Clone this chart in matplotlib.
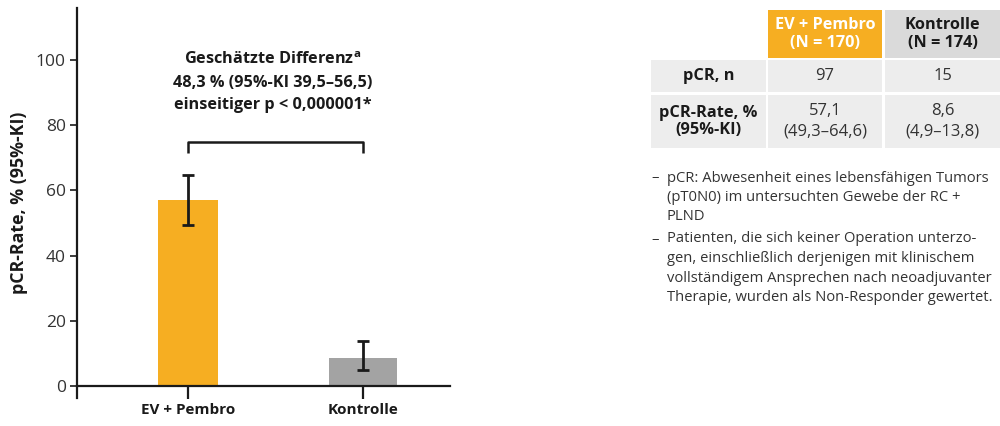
import matplotlib
matplotlib.use('Agg')
import numpy as np
import matplotlib.pyplot as plt

# DATA
groups = ['EV + Pembro', 'Kontrolle']
n_total = [170, 174]
n_pcr = [97, 15]
rates = [57.1, 8.6]
ci_low = [49.3, 4.9]
ci_high = [64.6, 13.8]
diff_text = ['Geschätzte Differenz$^{\\mathregular{a}}$',
             '48,3 % (95%-KI 39,5–56,5)',
             'einseitiger p < 0,000001*']
notes = [['pCR: Abwesenheit eines lebensfähigen Tumors',
          '(pT0N0) im untersuchten Gewebe der RC +',
          'PLND'],
         ['Patienten, die sich keiner Operation unterzo-',
          'gen, einschließlich derjenigen mit klinischem',
          'vollständigem Ansprechen nach neoadjuvanter',
          'Therapie, wurden als Non-Responder gewertet.']]

plt.rcParams['font.family'] = ['Open Sans', 'DejaVu Sans']
ORANGE = '#F6AE22'
GREY_BAR = '#A3A3A3'
TXT = '#333333'

W, H = 1000, 426
fig = plt.figure(figsize=(W / 100, H / 100), dpi=100)

# MAIN BAR CHART
ax = fig.add_axes([77 / W, 1 - 398 / H, 373 / W, 390 / H])
x = np.arange(len(groups))
bar_widths = [0.34, 0.39]
err = [np.array(rates) - np.array(ci_low), np.array(ci_high) - np.array(rates)]
ax.bar(x, rates, width=bar_widths, color=[ORANGE, GREY_BAR], zorder=1)
ax.errorbar(x, rates, yerr=err, fmt='none', ecolor='#1a1a1a', elinewidth=2,
            capsize=4, capthick=2, zorder=2)
ax.set_xlim(-0.634, 1.497)
ax.set_ylim(-3.7, 116)
ax.spines['top'].set_visible(False)
ax.spines['right'].set_visible(False)
ax.spines['bottom'].set_position(('data', 0))
for s in ['left', 'bottom']:
    ax.spines[s].set_linewidth(1.6)
    ax.spines[s].set_color('#1a1a1a')
ax.set_yticks(np.arange(0, 101, 20))
ax.set_xticks(x)
ax.set_xticklabels(groups, fontsize=11, fontweight='bold', color='#1a1a1a')
ax.tick_params(axis='x', length=9, width=1.6, color='#1a1a1a', pad=3)
ax.tick_params(axis='y', length=5, width=1.2, color='#1a1a1a', labelsize=12.5,
               labelcolor=TXT, pad=3)
ax.set_ylabel('pCR-Rate, % (95%-KI)', fontsize=12.8, fontweight='bold',
              color='#1a1a1a', labelpad=6)

# bracket + difference text
ax.plot([x[0], x[0], x[1], x[1]], [71.5, 75, 75, 71.5], color='#1a1a1a',
        lw=1.8, solid_capstyle='butt')
xm = 0.482
for i, t in enumerate(diff_text):
    ax.text(xm, 100 - i * 6.9, t, ha='center', va='center', fontsize=11.7,
            fontweight='bold', color='#1a1a1a')

# TABLE (pixel coordinates)
tx = fig.add_axes([0, 0, 1, 1])
tx.set_xlim(0, W)
tx.set_ylim(H, 0)
tx.axis('off')
col_x = [651, 768, 885]
col_w = [115, 114, 115]
row_y = [10, 60, 95]
row_h = [48, 32, 53]
head_bg = [ORANGE, '#DADADA']
head_fg = ['white', '#1a1a1a']
for j in range(2):
    tx.add_patch(plt.Rectangle((col_x[j + 1], row_y[0]), col_w[j + 1], row_h[0],
                               color=head_bg[j], lw=0))
    tx.text(col_x[j + 1] + col_w[j + 1] / 2, row_y[0] + row_h[0] / 2,
            f'{groups[j]}\n(N = {n_total[j]})', ha='center', va='center',
            fontsize=11.7, fontweight='bold', color=head_fg[j], linespacing=1.1)
row_labels = ['pCR, n', 'pCR-Rate, %\n(95%-KI)']
for r in range(2):
    for c in range(3):
        tx.add_patch(plt.Rectangle((col_x[c], row_y[r + 1]), col_w[c], row_h[r + 1],
                                   color='#EDEDED', lw=0))
    tx.text(col_x[0] + col_w[0] / 2, row_y[r + 1] + row_h[r + 1] / 2, row_labels[r],
            ha='center', va='center', fontsize=11.8, fontweight='bold',
            color='#1a1a1a', linespacing=1.1)
for j in range(2):
    cx = col_x[j + 1] + col_w[j + 1] / 2
    tx.text(cx, row_y[1] + row_h[1] / 2, str(n_pcr[j]), ha='center', va='center',
            fontsize=12, color=TXT)
    tx.text(cx, row_y[2] + 16, f'{rates[j]}'.replace('.', ','), ha='center',
            va='center', fontsize=12, color=TXT)
    tx.text(cx, row_y[2] + 36,
            f'({ci_low[j]}–{ci_high[j]})'.replace('.', ','), ha='center',
            va='center', fontsize=12, color=TXT)

# notes
y = 178
for block in notes:
    tx.text(651, y, '–', ha='left', va='center', fontsize=10.6, color=TXT)
    for line in block:
        tx.text(667, y, line, ha='left', va='center', fontsize=10.6, color=TXT)
        y += 19.5
    y += 2.5

fig.savefig('out.png', dpi=100)
